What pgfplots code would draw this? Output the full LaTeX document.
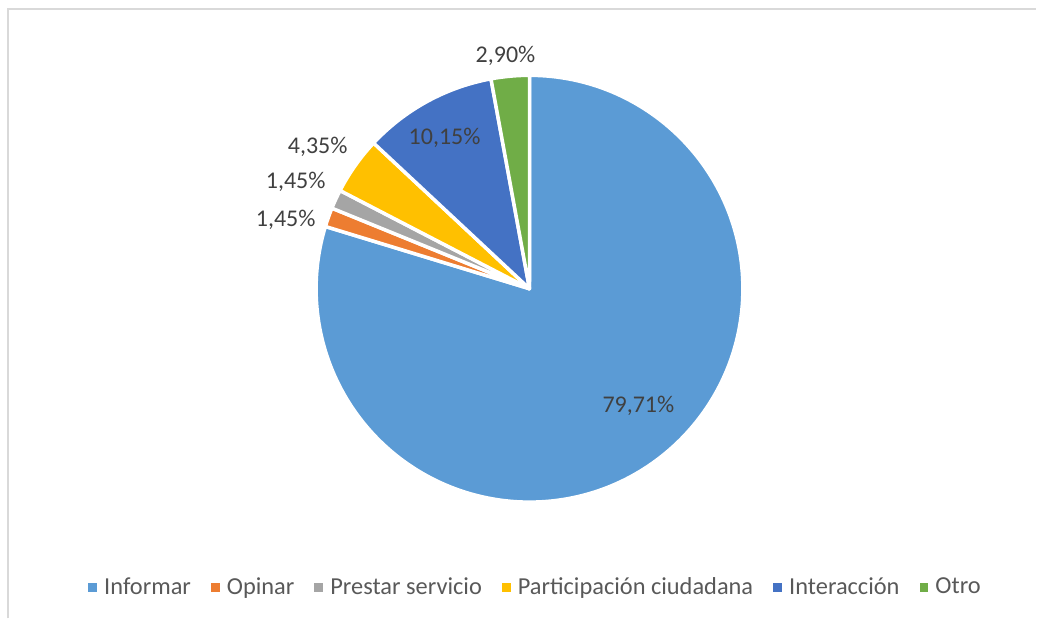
\documentclass[border=0pt]{standalone}
\usepackage{pgfplots}
\pgfplotsset{compat=1.18}
\usepackage{pgfplotstable}
\usepackage{fontspec}
\setmainfont{Carlito}

\definecolor{cInf}{HTML}{5B9BD5}
\definecolor{cOpi}{HTML}{ED7D31}
\definecolor{cPre}{HTML}{A5A5A5}
\definecolor{cPar}{HTML}{FFC000}
\definecolor{cInt}{HTML}{4472C4}
\definecolor{cOtr}{HTML}{70AD47}
\definecolor{lbl}{HTML}{404040}
\definecolor{leg}{HTML}{595959}
\definecolor{frame}{HTML}{D9D9D9}

% value in %, slice colour, label text and label position (pixel grid, y up)
\pgfplotstableread[col sep=comma]{
name,value,color,label,lx,ly
Informar,79.71,cInf,{79,71\%},639,213
Opinar,1.45,cOpi,{1,45\%},286,399
Prestar servicio,1.45,cPre,{1,45\%},296,437
Participación ciudadana,4.35,cPar,{4,35\%},318,472
Interacción,10.15,cInt,{10,15\%},445,481
Otro,2.90,cOtr,{2,90\%},506,563
}\piedata

\begin{document}
\begin{tikzpicture}
\begin{axis}[
    width=518.5pt, height=309.5pt,
    scale only axis,
    hide axis,
    xmin=0, xmax=1037, ymin=0, ymax=619,
    clip=false,
    legend columns=6,
    legend image code/.code={\fill[#1, draw=none] (0pt,-2.25pt) rectangle (4.5pt,2.25pt);},
    legend style={
        at={(axis cs:535,31)}, anchor=center,
        draw=none, fill=none,
        font=\fontsize{12.2pt}{14pt}\selectfont,
        text=leg,
        nodes={inner xsep=0pt, inner ysep=1pt},
        /tikz/every odd column/.append style={column sep=3.5pt},
        /tikz/every even column/.append style={column sep=10pt},
    },
]
% frame of the chart area (cut at right and bottom)
\draw[frame, line width=1pt] (axis cs:8,0) -- (axis cs:8,610) -- (axis cs:1037,610);
\path (axis cs:0,0) rectangle (axis cs:1037,619);

\pgfplotstablegetrowsof{\piedata}
\pgfmathtruncatemacro\N{\pgfplotsretval-1}
\gdef\angA{90}
\pgfplotsforeachungrouped \i in {0,...,\N}{
    \pgfplotstablegetelem{\i}{value}\of\piedata \let\v\pgfplotsretval
    \pgfplotstablegetelem{\i}{color}\of\piedata \let\c\pgfplotsretval
    \pgfmathsetmacro\angB{\angA-3.6*\v}
    \edef\temp{\noexpand\filldraw[fill=\c, draw=white, line width=1.75pt, line join=round]
        (axis cs:530,330) -- ++(\angA:106.8pt)
        arc[start angle=\angA, end angle=\angB, radius=106.8pt] -- cycle;}
    \temp
    \global\let\angA\angB
}
\pgfplotsforeachungrouped \i in {0,...,\N}{
    \pgfplotstablegetelem{\i}{label}\of\piedata \let\t\pgfplotsretval
    \pgfplotstablegetelem{\i}{lx}\of\piedata \let\px\pgfplotsretval
    \pgfplotstablegetelem{\i}{ly}\of\piedata \let\py\pgfplotsretval
    \edef\temp{\noexpand\node[text=lbl, font=\noexpand\fontsize{12pt}{14pt}\noexpand\selectfont]
        at (axis cs:\px,\py) {\expandafter\unexpanded\expandafter{\t}};}
    \temp
}

\addlegendimage{fill=cInf}\addlegendentry{Informar}
\addlegendimage{fill=cOpi}\addlegendentry{Opinar}
\addlegendimage{fill=cPre}\addlegendentry{Prestar servicio}
\addlegendimage{fill=cPar}\addlegendentry{Participación ciudadana}
\addlegendimage{fill=cInt}\addlegendentry{Interacción}
\addlegendimage{fill=cOtr}\addlegendentry{Otro}
\end{axis}
\end{tikzpicture}
\end{document}
